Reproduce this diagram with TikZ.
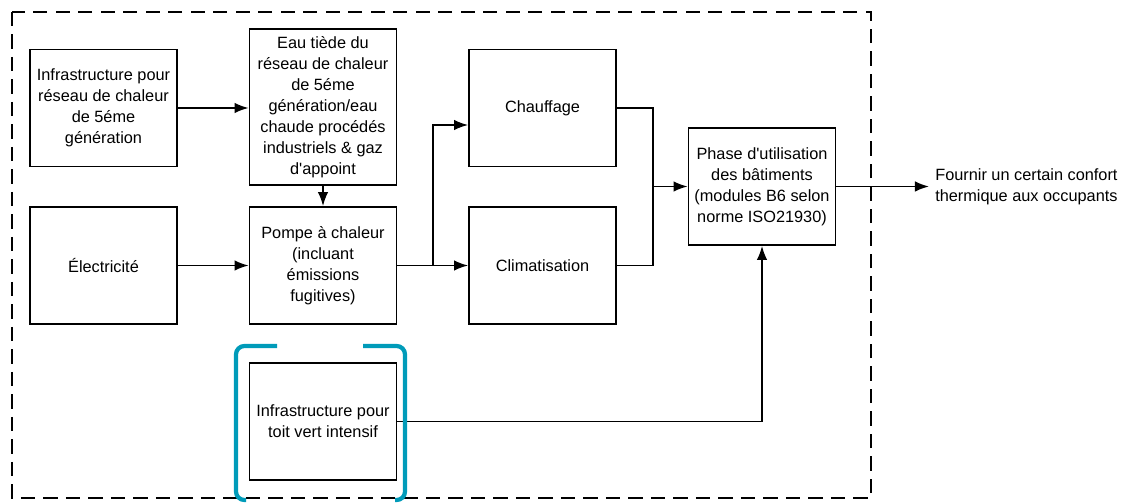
\documentclass[tikz,border=0pt]{standalone}
\usepackage{fontspec}
\setmainfont{Liberation Sans}
\usetikzlibrary{shapes,arrows.meta}
\tikzstyle{line} = [draw, -{Latex[length=10pt,width=7.5pt]}, line width=1.25pt]
\tikzstyle{block} = [draw, rectangle, line width=1.2pt, align=center, inner sep=0pt,
  minimum width=3.675cm, minimum height=2.925cm, font=\fontsize{11.6}{14.9}\selectfont]
\definecolor{bracketblue}{RGB}{0,155,185}

\begin{document}
\begin{tikzpicture}[x=0.025cm, y=-0.025cm]
      \useasboundingbox (0,0) rectangle (1123,503);

      % limite du systeme
      \draw [line width=1.2pt, dash pattern=on 10pt off 6pt] (12,12) rectangle (871,498);

      \node[block] (infra) at (103.5,108) {Infrastructure pour\\réseau de chaleur\\de 5éme\\génération};
      \node[block, minimum height=3.9cm] (eau) at (323,107) {Eau tiède du\\réseau de chaleur\\de 5éme\\génération/eau\\chaude procédés\\industriels \& gaz\\d\textquotesingle appoint};
      \node[block] (elec) at (103.5,265.5) {Électricité};
      \node[block] (pompe) at (323,265.5) {Pompe à chaleur\\(incluant\\émissions\\fugitives)};
      \node[block] (chauf) at (542.5,108) {Chauffage};
      \node[block] (clim) at (542.5,265.5) {Climatisation};
      \node[block] (phase) at (762,186.5) {Phase d\textquotesingle utilisation\\des bâtiments\\(modules B6 selon\\norme ISO21930)};
      \node[block] (toit) at (323,421.5) {Infrastructure pour\\toit vert intensif};
      \node[anchor=west, align=left, inner sep=0pt, font=\fontsize{11.6}{14.9}\selectfont] (confort) at (935,186.5) {Fournir un certain confort\\thermique aux occupants};

      \coordinate (split) at (433,265.5);
      \coordinate (merge) at (653,186.5);

      \draw [line] (infra.east) -- (infra.east -| eau.west);
      \draw [line] (eau) -- (pompe);
      \draw [line] (elec) -- (pompe);
      \draw [line] (pompe) -- (clim);
      \draw [line] (split) |- ([yshift=-0.425cm]chauf.west);
      \draw [line width=1.25pt] (chauf.east) -| (merge) |- (clim.east);
      \draw [line] (merge) -- (phase);
      \draw [line] (toit.east) -| (phase.south);
      \draw [line] (phase) -- ([xshift=-0.15cm]confort.west);

      % crochets
      \draw [line width=3pt, bracketblue, rounded corners=6pt] (277,346) -- (236,346) -- (236,500) -- (246,500);
      \draw [line width=3pt, bracketblue, rounded corners=6pt] (363,346) -- (405,346) -- (405,500) -- (395,500);
\end{tikzpicture}
\end{document}
